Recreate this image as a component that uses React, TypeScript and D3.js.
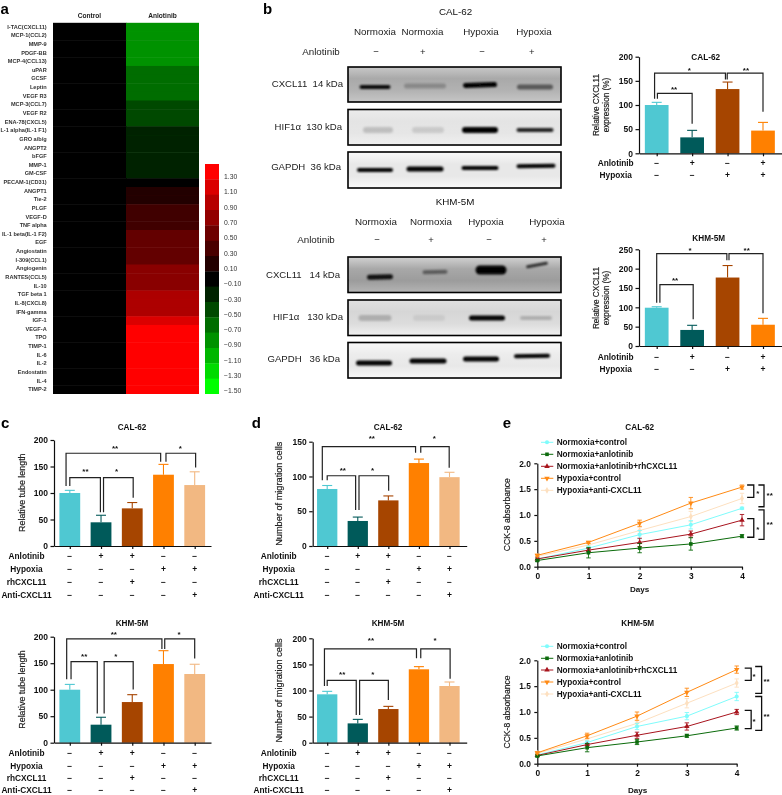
import React, { useEffect, useRef } from "react";
import * as d3 from "d3";

const FONT = "'Liberation Sans', Arial, sans-serif";

// ---------- panel a ----------
const heatLabels = ["I-TAC(CXCL11)","MCP-1(CCL2)","MMP-9","PDGF-BB","MCP-4(CCL13)","uPAR","GCSF","Leptin","VEGF R3","MCP-3(CCL7)","VEGF R2","ENA-78(CXCL5)","IL-1 alpha(IL-1 F1)","GRO a/b/g","ANGPT2","bFGF","MMP-1","GM-CSF","PECAM-1(CD31)","ANGPT1","Tie-2","PLGF","VEGF-D","TNF alpha","IL-1 beta(IL-1 F2)","EGF","Angiostatin","I-309(CCL1)","Angiogenin","RANTES(CCL5)","IL-10","TGF beta 1","IL-8(CXCL8)","IFN-gamma","IGF-1","VEGF-A","TPO","TIMP-1","IL-6","IL-2","Endostatin","IL-4","TIMP-2"];
const heatColumns = ["Control", "Anlotinib"];
const anlotinibValues = [-0.8,-0.8,-0.8,-0.8,-0.8,-0.6,-0.6,-0.6,-0.6,-0.4,-0.4,-0.4,-0.2,-0.2,-0.2,-0.2,-0.2,-0.2,0,0.2,0.2,0.35,0.35,0.35,0.55,0.55,0.55,0.55,0.75,0.75,0.75,0.95,0.95,0.95,1.2,1.4,1.4,1.4,1.4,1.4,1.4,1.4,1.4];
const controlValue = 0;
const swatchValues = [1.4,1.2,1.0,0.8,0.6,0.4,0.2,0,-0.2,-0.4,-0.6,-0.8,-1.0,-1.2,-1.4];
const swatchLabels = ["1.30","1.10","0.90","0.70","0.50","0.30","0.10","−0.10","−0.30","−0.50","−0.70","−0.90","−1.10","−1.30","−1.50"];

// ---------- panel b blots ----------
const blotConditions = ["Normoxia", "Normoxia", "Hypoxia", "Hypoxia"];
const anlotinibSigns2 = ["−", "+", "−", "+"];
const hypoxiaSigns2 = ["−", "−", "+", "+"];
// band: lane index, horizontal offset, band length, intensity, thickness, vertical offset, tilt
const calBlots = [
  { name: "CXCL11  14 kDa", stops: ["#c8c8c8", "#a9a9a9", "#b2b2b2", "#c6c6c6"], bands: [[0,-5,31,0.95,4,1,0],[1,0,42,0.22,5,0,0],[2,-1,34,1,5,-1,-2],[3,0,36,0.5,5,1,0]] },
  { name: "HIF1α  130 kDa", stops: ["#ececec", "#e4e4e4", "#e6e6e6", "#f0f0f0"], bands: [[0,-2,30,0.17,6,0,0],[1,3,32,0.12,6,0,0],[2,-1,36,1,6,0,0],[3,0,37,0.85,4,0,0]] },
  { name: "GAPDH  36 kDa", stops: ["#fafafa", "#e8e8e8", "#e8e8e8", "#fafafa"], bands: [[0,-5,36,1,4,0,0],[1,0,37,1,5,-1,0],[2,-1,37,1,4,-2,0],[3,1,39,1,4,-4,-1]] },
];
const khmBlots = [
  { name: "CXCL11   14 kDa", stops: ["#d2d2d2", "#a8a8a8", "#9c9c9c", "#b4b4b4"], bands: [[0,4,26,0.9,5,2,-2],[1,4,25,0.45,4,-3,-1],[2,1,31,1,9,-5,0],[3,-7,22,0.75,3,-10,-10]] },
  { name: "HIF1α   130 kDa", stops: ["#e0e0e0", "#d6d6d6", "#dcdcdc", "#f0f0f0"], bands: [[0,-1,33,0.2,6,0,0],[1,-2,32,0.07,6,0,0],[2,-3,36,1,5,0,0],[3,-8,32,0.2,4,0,0]] },
  { name: "GAPDH   36 kDa", stops: ["#f8f8f8", "#ececec", "#e8e8e8", "#f8f8f8"], bands: [[0,-2,36,1,5,0,0],[1,-3,37,1,5,-2,0],[2,-9,36,1,5,-4,0],[3,-12,36,1,4,-7,-1]] },
];

// ---------- bar charts ----------
const cyan = "#4fc8d2", teal = "#045a5a", brown = "#a64400", orange = "#ff8000", peach = "#f2b882";
const barColors4 = [cyan, teal, brown, orange];
const barColors5 = [cyan, teal, brown, orange, peach];

const bCalValues = [100, 33, 133, 47];
const bCalErrors = [105.5, 47.5, 147.5, 64];
const bKhmValues = [99, 41.5, 177, 55];
const bKhmErrors = [101.5, 53.5, 208, 71.5];
const cCalValues = [100, 44.7, 71, 134.5, 115];
const cCalErrors = [105, 58, 82, 154, 140];
const cKhmValues = [100, 34, 76.7, 148.4, 129.6];
const cKhmErrors = [110, 48, 90.6, 173.6, 148];
const dCalValues = [82, 36, 65.6, 119.3, 99];
const dCalErrors = [87, 41.6, 72, 125, 106];
const dKhmValues = [92.7, 37, 64.5, 140.6, 108.6];
const dKhmErrors = [98.4, 44.7, 69.6, 145.7, 116.3];

const rowNames4 = ["Anlotinib", "Hypoxia", "rhCXCL11", "Anti-CXCL11"];
const rowSigns4 = [["−","+","+","−","−"],["−","−","−","+","+"],["−","−","+","−","−"],["−","−","−","−","+"]];
const rowNames2 = ["Anlotinib", "Hypoxia"];
const rowSigns2 = [anlotinibSigns2, hypoxiaSigns2];

// brackets: from index, to index, top value, left leg value, right leg value
const bCalBrackets = [[-0.06,1.94,166,113,153],[1.99,3.0,166,153,86],[0.02,1.0,124,113,61]];
const bCalStars: [number, number, string][] = [[0.92,176,"*"],[2.52,176,"**"],[0.49,137,"**"]];
const bKhmBrackets = [[0,1.98,239,112,222],[2.04,3.0,239,222,84.5],[0.09,1.03,158.6,112,69]];
const bKhmStars: [number, number, string][] = [[0.94,252.6,"*"],[2.54,252.6,"**"],[0.52,175,"**"]];
const cCalBrackets = [[-0.12,2.91,175,113,159],[3.08,4.03,175,159,148],[0,0.98,129,113,63.5],[1.08,2.03,129,63.5,91]];
const cCalStars: [number, number, string][] = [[1.45,188.7,"**"],[3.54,188.7,"*"],[0.5,144,"**"],[1.5,144,"*"]];
const cKhmBrackets = [[-0.1,2.95,196,119.5,176.7],[3.04,4.0,196,176.7,159],[0.04,0.88,153,119.5,55],[1.1,2.03,153,55,100.6]];
const cKhmStars: [number, number, string][] = [[1.41,209,"**"],[3.5,209,"*"],[0.46,166.7,"**"],[1.47,166.7,"*"]];
const dCalBrackets = [[-0.16,2.89,142.8,94.4,134],[3.06,3.99,142.8,134,112.6],[0,0.93,101,94.4,51.7],[1.04,2.01,101,51.7,79.5]];
const dCalStars: [number, number, string][] = [[1.46,157,"**"],[3.5,157,"*"],[0.51,111.6,"**"],[1.48,111.6,"*"]];
const dKhmBrackets = [[-0.09,2.92,179.6,108.6,161.7],[3.06,4.02,179.6,161.7,122.7],[0,0.95,119.5,108.6,53],[1.06,2.0,119.5,53,81.8]];
const dKhmStars: [number, number, string][] = [[1.43,199.4,"**"],[3.53,199.4,"*"],[0.49,134,"**"],[1.49,134,"*"]];

// ---------- line charts ----------
const days = [0, 1, 2, 3, 4];
const seriesNames = ["Normoxia+control", "Normoxia+anlotinib", "Normoxia+anlotinib+rhCXCL11", "Hypoxia+control", "Hypoxia+anti-CXCL11"];
const seriesColors = ["#7ffcfc", "#0b6b0b", "#a8141e", "#ff8a14", "#fde0c0"];
const seriesSymbols = [d3.symbolCircle, d3.symbolSquare, d3.symbolTriangle, d3.symbolTriangle, d3.symbolDiamond];
const seriesFlip = [0, 0, 0, 180, 0];

const eCalCyan = [0.15, 0.36, 0.62, 0.81, 1.13];
const eCalGreen = [0.12, 0.27, 0.36, 0.44, 0.59];
const eCalRed = [0.15, 0.32, 0.47, 0.63, 0.9];
const eCalOrange = [0.22, 0.47, 0.84, 1.23, 1.54];
const eCalPeach = [0.2, 0.42, 0.7, 0.97, 1.32];
const eCalCyanErr = [0.03, 0.04, 0.08, 0.08, 0.02];
const eCalGreenErr = [0.02, 0.1, 0.09, 0.12, 0.03];
const eCalRedErr = [0.02, 0.03, 0.08, 0.06, 0.11];
const eCalOrangeErr = [0.02, 0.02, 0.06, 0.11, 0.04];
const eCalPeachErr = [0.02, 0.03, 0.06, 0.1, 0.1];

const eKhmCyan = [0.17, 0.41, 0.72, 0.92, 1.3];
const eKhmGreen = [0.15, 0.31, 0.42, 0.54, 0.69];
const eKhmRed = [0.16, 0.37, 0.55, 0.72, 1.0];
const eKhmOrange = [0.21, 0.54, 0.92, 1.38, 1.82];
const eKhmPeach = [0.2, 0.48, 0.78, 1.17, 1.56];
const eKhmCyanErr = [0.02, 0.03, 0.06, 0.07, 0.08];
const eKhmGreenErr = [0.02, 0.08, 0.05, 0.03, 0.04];
const eKhmRedErr = [0.02, 0.02, 0.06, 0.07, 0.05];
const eKhmOrangeErr = [0.02, 0.05, 0.08, 0.08, 0.07];
const eKhmPeachErr = [0.02, 0.03, 0.05, 0.09, 0.08];

// right-side brackets: x1, x2 (days), top, bottom (absorbance)
const eCalBrackets = [[4.10,4.23,1.58,1.34],[4.10,4.23,0.93,0.57],[4.32,4.43,1.58,1.16],[4.32,4.43,1.10,0.53]];
const eCalStars: [number, number, string][] = [[4.31,1.46,"*"],[4.31,0.76,"*"],[4.54,1.41,"**"],[4.54,0.86,"**"]];
const eKhmBrackets = [[4.16,4.29,1.85,1.61],[4.16,4.29,1.03,0.68],[4.37,4.5,1.88,1.36],[4.37,4.5,1.30,0.645]];
const eKhmStars: [number, number, string][] = [[4.35,1.735,"*"],[4.35,0.86,"*"],[4.6,1.64,"**"],[4.6,0.96,"**"]];

type Sel = d3.Selection<any, any, any, any>;

function label(g: Sel, x: number, y: number, s: string, o: any = {}) {
  const t = g.append("text")
    .attr("x", o.rotate ? 0 : x).attr("y", o.rotate ? 0 : y)
    .attr("dy", o.raw ? 0 : "0.35em")
    .attr("font-family", FONT)
    .attr("font-size", o.size ?? 8)
    .attr("font-weight", o.weight ?? "normal")
    .attr("text-anchor", o.anchor ?? "middle")
    .attr("fill", o.fill ?? "#111")
    .style("white-space", "pre")
    .text(s);
  if (o.rotate) t.attr("transform", `translate(${x},${y}) rotate(${o.rotate})`);
  if (o.heavy) t.attr("stroke", o.fill ?? "#111").attr("stroke-width", o.heavy);
  return t;
}

function star(g: Sel, x: number, y: number, s: string) {
  label(g, x, y + 4.6, s, { raw: true, size: 8, weight: "bold" });
}

function drawHeatmap(g: Sel) {
  const color = d3.scaleLinear<string>().domain([-1.4, 0, 1.4]).range(["#00ff00", "#000000", "#ff0000"]);
  const x = d3.scaleBand().domain(heatColumns).range([53, 199]);
  const y = d3.scaleBand().domain(heatLabels).range([22.8, 394]);
  heatColumns.forEach((c) => {
    label(g, x(c)! + x.bandwidth() / 2, 16, c, { size: 6.6, weight: "bold", fill: "#222" });
  });
  g.selectAll(".ctl").data(heatLabels).join("rect")
    .attr("x", x("Control")!).attr("width", x.bandwidth() + 0.5)
    .attr("y", (d: string) => y(d)!).attr("height", (_: string, i: number) => y.bandwidth() + (i < 42 ? 0.5 : 0))
    .attr("fill", color(controlValue));
  g.selectAll(".anl").data(anlotinibValues).join("rect")
    .attr("x", x("Anlotinib")!).attr("width", x.bandwidth())
    .attr("y", (_: number, i: number) => y(heatLabels[i])!).attr("height", (_: number, i: number) => y.bandwidth() + (i < 42 ? 0.5 : 0))
    .attr("fill", (d: number) => color(d));
  heatLabels.forEach((l) => {
    label(g, 46.7, y(l)! + y.bandwidth() / 2 - 0.4, l, { size: 5.6, weight: "bold", anchor: "end", fill: "#333" });
  });
  const s = d3.scaleBand<number>().domain(swatchValues.map((_, i) => i)).range([164, 394]);
  swatchValues.forEach((v, i) => {
    g.append("rect").attr("x", 205).attr("width", 14).attr("y", s(i)!).attr("height", s.bandwidth() + (i < 14 ? 0.3 : 0)).attr("fill", color(v));
  });
  const ly = d3.scalePoint<string>().domain(swatchLabels).range([176.7, 391]);
  swatchLabels.forEach((l) => label(g, 224, ly(l)!, l, { size: 6.8, anchor: "start", fill: "#333" }));
}

function drawBlots(g: Sel, defs: Sel, cfg: any) {
  const lane = d3.scaleOrdinal<number, number>().domain([0, 1, 2, 3]).range(cfg.laneCenters);
  label(g, cfg.titleX, cfg.titleY, cfg.title, { size: 9.8 });
  blotConditions.forEach((c, i) => label(g, cfg.headerXs[i], cfg.headerY, c, { size: 9.8, fill: "#222" }));
  label(g, cfg.anlX, cfg.signY, "Anlotinib", { size: 9.8, fill: "#222" });
  anlotinibSigns2.forEach((s, i) => label(g, cfg.signXs[i], cfg.signY, s, { size: 9.5, fill: "#222" }));
  cfg.blots.forEach((b: any, idx: number) => {
    const [y0, y1] = cfg.boxes[idx];
    const id = `${cfg.id}-${idx}`;
    const grad = defs.append("linearGradient").attr("id", `grad-${id}`).attr("x1", 0).attr("x2", 0).attr("y1", 0).attr("y2", 1);
    b.stops.forEach((c: string, i: number) => grad.append("stop").attr("offset", i / (b.stops.length - 1)).attr("stop-color", c));
    defs.append("clipPath").attr("id", `clip-${id}`).append("rect").attr("x", cfg.boxX0).attr("y", y0).attr("width", cfg.boxX1 - cfg.boxX0).attr("height", y1 - y0);
    g.append("rect").attr("x", cfg.boxX0).attr("y", y0).attr("width", cfg.boxX1 - cfg.boxX0).attr("height", y1 - y0).attr("fill", `url(#grad-${id})`);
    const bands = g.append("g").attr("clip-path", `url(#clip-${id})`).append("g").attr("filter", "url(#bandBlur)");
    const cy = cfg.bandYs[idx];
    b.bands.forEach(([l, dx, w, op, h, dy, tilt]: number[]) => {
      const cx = lane(l) + dx;
      bands.append("rect")
        .attr("x", cx - w / 2).attr("y", cy + dy - h / 2).attr("width", w).attr("height", h).attr("rx", h / 2)
        .attr("fill", "#000").attr("opacity", op)
        .attr("transform", `rotate(${tilt} ${cx} ${cy + dy})`);
    });
    g.append("rect").attr("x", cfg.boxX0).attr("y", y0).attr("width", cfg.boxX1 - cfg.boxX0).attr("height", y1 - y0)
      .attr("fill", "none").attr("stroke", "#000").attr("stroke-width", 1.6);
    label(g, cfg.nameX[idx], cfg.nameY[idx], b.name, { size: 9.6, anchor: "end", fill: "#222" });
  });
}

function drawBars(g: Sel, c: any) {
  const n = c.values.length;
  const y = d3.scaleLinear().domain([0, c.max]).range([c.yZero, c.yTop]);
  const x = d3.scaleLinear().domain([0, n - 1]).range([c.c0, c.cN]);
  const w = c.barW;
  c.values.forEach((v: number, i: number) => {
    const col = c.colors[i];
    const cx = x(i);
    g.append("line").attr("x1", cx).attr("x2", cx).attr("y1", y(v)).attr("y2", y(c.errors[i])).attr("stroke", col).attr("stroke-width", 1.1);
    g.append("line").attr("x1", cx - 5).attr("x2", cx + 5).attr("y1", y(c.errors[i])).attr("y2", y(c.errors[i])).attr("stroke", col).attr("stroke-width", 1.1);
    g.append("rect").attr("x", cx - w / 2).attr("width", w).attr("y", y(v)).attr("height", y(0) - y(v)).attr("fill", col);
  });
  const yAxis = g.append("g").attr("transform", `translate(${c.x0},0)`)
    .call(d3.axisLeft(y).tickValues(c.ticks).tickSize(3.5).tickPadding(2.5).tickSizeOuter(0) as any);
  const xAxis = g.append("g").attr("transform", `translate(0,${c.yZero})`)
    .call(d3.axisBottom(d3.scaleLinear().domain([c.x0, c.xEnd]).range([c.x0, c.xEnd])).tickValues(c.values.map((_: number, i: number) => x(i))).tickFormat(() => "").tickSize(3).tickSizeOuter(0) as any);
  [yAxis, xAxis].forEach((a) => {
    a.selectAll("path,line").attr("stroke", "#111").attr("stroke-width", 1.2);
    a.selectAll("text").attr("font-family", FONT).attr("font-size", c.tickSize ?? 8.5).attr("font-weight", "bold").attr("fill", "#111");
  });
  c.brackets.forEach(([a, b, top, l, r]: number[]) => {
    const path = d3.path();
    path.moveTo(x(a), y(l)); path.lineTo(x(a), y(top)); path.lineTo(x(b), y(top)); path.lineTo(x(b), y(r));
    g.append("path").attr("d", path.toString()).attr("fill", "none").attr("stroke", "#222").attr("stroke-width", 1.2);
  });
  c.stars.forEach(([i, v, s]: [number, number, string]) => star(g, x(i), y(v), s));
  label(g, c.titleX, c.titleY, c.title, { size: 8.2, weight: "bold" });
  c.yLabel.forEach((t: string, i: number) => {
    label(g, c.yLabelXs[i], c.yLabelY, t, { size: c.yLabelSize, rotate: -90, fill: "#222", heavy: 0.2 });
  });
  c.rowNames.forEach((r: string, i: number) => {
    label(g, c.rowX, c.rowYs[i], r, { size: 8.3, weight: "bold" });
    c.rowSigns[i].forEach((s: string, j: number) => label(g, x(j), c.rowYs[i], s, { size: 8.5, weight: "bold" }));
  });
}

function drawLines(g: Sel, c: any) {
  const x = d3.scaleLinear().domain([0, 4]).range([c.x0, c.x1]);
  const y = d3.scaleLinear().domain([0, 2]).range([c.y0, c.y1]);
  const xAxis = g.append("g").attr("transform", `translate(0,${c.y0})`)
    .call(d3.axisBottom(x).tickValues(days).tickFormat(d3.format("d") as any).tickSize(3).tickPadding(3.5).tickSizeOuter(0) as any);
  const yAxis = g.append("g").attr("transform", `translate(${c.x0},0)`)
    .call(d3.axisLeft(y).tickValues([0, 0.5, 1, 1.5, 2]).tickFormat(d3.format(".1f") as any).tickSize(3).tickPadding(3.5).tickSizeOuter(0) as any);
  [xAxis, yAxis].forEach((a) => {
    a.selectAll("path,line").attr("stroke", "#111").attr("stroke-width", 1.2);
    a.selectAll("text").attr("font-family", FONT).attr("font-size", 8.4).attr("font-weight", "bold").attr("fill", "#111");
  });
  const line = d3.line<number>().x((_, i) => x(days[i])).y((d) => y(d));
  const order = [4, 0, 2, 1, 3];
  order.forEach((s) => {
    const col = seriesColors[s];
    g.append("path").attr("d", line(c.series[s])!).attr("fill", "none").attr("stroke", col).attr("stroke-width", 1);
    c.series[s].forEach((v: number, i: number) => {
      const e = c.errors[s][i];
      const px = x(days[i]);
      const p = d3.path();
      p.moveTo(px, y(v - e)); p.lineTo(px, y(v + e));
      p.moveTo(px - 2.2, y(v - e)); p.lineTo(px + 2.2, y(v - e));
      p.moveTo(px - 2.2, y(v + e)); p.lineTo(px + 2.2, y(v + e));
      g.append("path").attr("d", p.toString()).attr("fill", "none").attr("stroke", col).attr("stroke-width", 0.9);
      g.append("path").attr("d", d3.symbol().type(seriesSymbols[s]).size(13)()!)
        .attr("transform", `translate(${px},${y(v)}) rotate(${seriesFlip[s]})`).attr("fill", col);
    });
  });
  seriesNames.forEach((name, s) => {
    const ly = c.legendY[s];
    g.append("line").attr("x1", 541).attr("x2", 553.3).attr("y1", ly).attr("y2", ly).attr("stroke", seriesColors[s]).attr("stroke-width", 1);
    g.append("path").attr("d", d3.symbol().type(seriesSymbols[s]).size(13)()!)
      .attr("transform", `translate(547,${ly}) rotate(${seriesFlip[s]})`).attr("fill", seriesColors[s]);
    label(g, 556.7, ly, name, { size: 8.2, weight: "bold", anchor: "start" });
  });
  c.brackets.forEach(([a, b, t, u]: number[]) => {
    const p = d3.path();
    p.moveTo(x(a), y(t)); p.lineTo(x(b), y(t)); p.lineTo(x(b), y(u)); p.lineTo(x(a), y(u));
    g.append("path").attr("d", p.toString()).attr("fill", "none").attr("stroke", "#111").attr("stroke-width", 1.3);
  });
  c.stars.forEach(([a, v, s]: [number, number, string]) => star(g, x(a), y(v), s));
  label(g, c.titleX, c.titleY, c.title, { size: 8.2, weight: "bold" });
  label(g, c.titleX, c.daysY, "Days", { size: 8.1, weight: "bold" });
  label(g, 507, c.yLabelY, "CCK-8 absorbance", { size: 8.6, rotate: -90, fill: "#222", heavy: 0.2 });
}

export default function App() {
  const ref = useRef<SVGSVGElement | null>(null);
  useEffect(() => {
    const svg = d3.select(ref.current!);
    svg.selectAll("*").remove();
    const defs = svg.append("defs");
    defs.append("filter").attr("id", "bandBlur").attr("x", "-30%").attr("y", "-200%").attr("width", "160%").attr("height", "500%")
      .append("feGaussianBlur").attr("stdDeviation", 1.1);
    defs.append("filter").attr("id", "softAll").attr("filterUnits", "userSpaceOnUse")
      .attr("x", 0).attr("y", 0).attr("width", 782).attr("height", 795)
      .append("feGaussianBlur").attr("stdDeviation", 0.3);
    const g = svg.append("g").attr("filter", "url(#softAll)");
    g.append("rect").attr("width", 782).attr("height", 795).attr("fill", "#fff");

    [["a", 0.5, 13.8], ["b", 263, 13.8], ["c", 1, 427.7], ["d", 251.7, 427.7], ["e", 502.7, 427.7]].forEach(([l, x, y]) =>
      label(g, x as number, y as number, l as string, { raw: true, size: 15, weight: "bold", anchor: "start", fill: "#000" }));

    drawHeatmap(g);

    drawBlots(g, defs, {
      id: "cal", title: "CAL-62", titleX: 455.5, titleY: 12,
      headerXs: [375, 422.5, 481, 534], headerY: 32,
      anlX: 321, signY: 52, signXs: [376, 422.7, 482, 531.7],
      blots: calBlots, laneCenters: [380, 425, 481, 535],
      boxX0: 348, boxX1: 561,
      boxes: [[67, 102], [109.5, 145], [152, 188]], bandYs: [86, 130, 170],
      nameX: [343, 342, 341], nameY: [84, 127, 167],
    });
    drawBlots(g, defs, {
      id: "khm", title: "KHM-5M", titleX: 455, titleY: 202,
      headerXs: [376, 431, 486, 547], headerY: 222,
      anlX: 316, signY: 240, signXs: [377, 431, 489, 544],
      blots: khmBlots, laneCenters: [376, 431, 490, 544],
      boxX0: 348, boxX1: 561,
      boxes: [[257, 292.5], [300, 335.5], [342.5, 378]], bandYs: [275, 318, 363],
      nameX: [340, 343, 340], nameY: [275, 317, 359],
    });

    const bCommon = { x0: 639, xEnd: 781.5, c0: 656.7, cN: 763, barW: 23.7, colors: barColors4, rowNames: rowNames2, rowSigns: rowSigns2, rowX: 615.7, yLabel: ["Relative CXCL11", "expression (%)"], yLabelXs: [596, 606], yLabelSize: 8.2 };
    drawBars(g, { ...bCommon, yTop: 56.7, yZero: 153.3, max: 200, ticks: [0, 50, 100, 150, 200], values: bCalValues, errors: bCalErrors, brackets: bCalBrackets, stars: bCalStars, title: "CAL-62", titleX: 705.7, titleY: 56.7, rowYs: [163.3, 175], yLabelY: 105 });
    drawBars(g, { ...bCommon, yTop: 249.3, yZero: 346, max: 250, ticks: [0, 50, 100, 150, 200, 250], values: bKhmValues, errors: bKhmErrors, brackets: bKhmBrackets, stars: bKhmStars, title: "KHM-5M", titleX: 708.7, titleY: 238, rowYs: [356.7, 369], yLabelY: 298 });

    const cCommon = { x0: 54, xEnd: 211, c0: 69.8, cN: 194.7, barW: 20.8, colors: barColors5, rowNames: rowNames4, rowSigns: rowSigns4, rowX: 26.5, yLabel: ["Relative tube length"], yLabelXs: [22], yLabelSize: 8.9, max: 200, ticks: [0, 50, 100, 150, 200] };
    drawBars(g, { ...cCommon, yTop: 440, yZero: 546, values: cCalValues, errors: cCalErrors, brackets: cCalBrackets, stars: cCalStars, title: "CAL-62", titleX: 132, titleY: 427, rowYs: [556, 568.7, 581.7, 594.7], yLabelY: 492.7 });
    drawBars(g, { ...cCommon, yTop: 636.7, yZero: 742.7, values: cKhmValues, errors: cKhmErrors, brackets: cKhmBrackets, stars: cKhmStars, title: "KHM-5M", titleX: 132, titleY: 623, rowYs: [753, 765.7, 777.7, 790.5], yLabelY: 689.5 });

    const dCommon = { x0: 312.7, xEnd: 466.7, c0: 327.2, cN: 449.5, barW: 20.3, colors: barColors5, rowNames: rowNames4, rowSigns: rowSigns4, rowX: 278.7, yLabel: ["Number of migration cells"], yLabelXs: [279], yLabelSize: 9.2 };
    drawBars(g, { ...dCommon, yTop: 441.7, yZero: 546, max: 150, ticks: [0, 50, 100, 150], values: dCalValues, errors: dCalErrors, brackets: dCalBrackets, stars: dCalStars, title: "CAL-62", titleX: 388, titleY: 427, rowYs: [556, 568.7, 581.7, 594.7], yLabelY: 493.7 });
    drawBars(g, { ...dCommon, yTop: 638.3, yZero: 742.7, max: 200, ticks: [0, 50, 100, 150, 200], values: dKhmValues, errors: dKhmErrors, brackets: dKhmBrackets, stars: dKhmStars, title: "KHM-5M", titleX: 388, titleY: 623, rowYs: [753, 765.7, 777.7, 790.5], yLabelY: 690.5 });

    drawLines(g, {
      x0: 537.3, x1: 742, y0: 566.7, y1: 463.3,
      series: [eCalCyan, eCalGreen, eCalRed, eCalOrange, eCalPeach],
      errors: [eCalCyanErr, eCalGreenErr, eCalRedErr, eCalOrangeErr, eCalPeachErr],
      brackets: eCalBrackets, stars: eCalStars,
      legendY: [442.3, 454.3, 466.3, 478.3, 490.3],
      title: "CAL-62", titleX: 639.7, titleY: 427, daysY: 589, yLabelY: 514.7,
    });
    drawLines(g, {
      x0: 537.3, x1: 736.7, y0: 763.7, y1: 660.3,
      series: [eKhmCyan, eKhmGreen, eKhmRed, eKhmOrange, eKhmPeach],
      errors: [eKhmCyanErr, eKhmGreenErr, eKhmRedErr, eKhmOrangeErr, eKhmPeachErr],
      brackets: eKhmBrackets, stars: eKhmStars,
      legendY: [646.3, 658.3, 670, 682, 694],
      title: "KHM-5M", titleX: 637.7, titleY: 623, daysY: 790, yLabelY: 712,
    });
  }, []);
  return (
    <svg ref={ref} width={782} height={795} viewBox="0 0 782 795"
      style={{ position: "absolute", left: 0, top: 0, display: "block", background: "#fff" }} />
  );
}
